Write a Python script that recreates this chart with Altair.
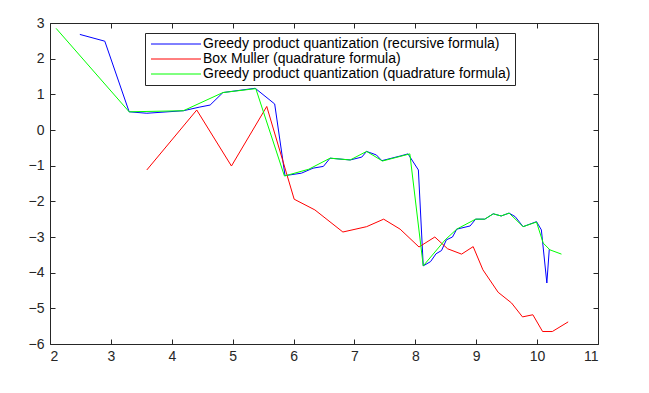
import altair as alt
import pandas as pd

names = [
    "Greedy product quantization (recursive formula)",
    "Box Muller (quadrature formula)",
    "Greedy product quantization (quadrature formula)",
]
colors = ["#0000ff", "#ff0000", "#00ff00"]

blue_x = [2.49, 2.90, 3.30, 3.59, 4.19, 4.45, 4.63, 4.84, 5.37, 5.69, 5.86, 6.13, 6.32, 6.49,
          6.60, 6.93, 7.12, 7.20, 7.36, 7.45, 7.75, 7.88, 8.05, 8.13, 8.25, 8.34, 8.43, 8.51,
          8.61, 8.68, 8.90, 8.99, 9.14, 9.28, 9.41, 9.54, 9.64, 9.77, 9.99, 10.07, 10.16, 10.20]
blue_y = [2.68, 2.49, 0.51, 0.47, 0.54, 0.64, 0.70, 1.05, 1.17, 0.73, -1.28, -1.21, -1.07, -1.02,
          -0.79, -0.84, -0.76, -0.60, -0.70, -0.86, -0.73, -0.67, -1.12, -3.81, -3.69, -3.47, -3.38, -3.08,
          -3.00, -2.78, -2.69, -2.50, -2.50, -2.35, -2.41, -2.33, -2.43, -2.71, -2.57, -2.80, -4.29, -3.34]

red_x = [3.59, 4.41, 4.98, 5.56, 6.01, 6.35, 6.81, 7.20, 7.48, 7.75, 8.06, 8.32, 8.53, 8.76,
         8.95, 9.11, 9.36, 9.58, 9.76, 9.93, 10.09, 10.25, 10.51]
red_y = [-1.12, 0.56, -1.01, 0.66, -1.94, -2.24, -2.86, -2.71, -2.50, -2.78, -3.28, -3.00, -3.33, -3.48,
         -3.27, -3.92, -4.55, -4.85, -5.24, -5.18, -5.65, -5.65, -5.38]

green_x = [2.10, 3.30, 4.19, 4.84, 5.38, 5.85, 6.25, 6.60, 6.93, 7.20, 7.46, 7.91, 8.13, 8.49,
           8.68, 8.99, 9.14, 9.28, 9.41, 9.54, 9.77, 9.99, 10.10, 10.21, 10.40]
green_y = [2.85, 0.51, 0.54, 1.05, 1.16, -1.29, -1.10, -0.79, -0.84, -0.60, -0.87, -0.67, -3.81, -3.08,
           -2.78, -2.50, -2.50, -2.35, -2.41, -2.33, -2.71, -2.58, -3.17, -3.36, -3.48]

x_ticks = [2, 3, 4, 5, 6, 7, 8, 9, 10, 11]
y_ticks = [-6, -5, -4, -3, -2, -1, 0, 1, 2, 3]

rows = []
for name, xs, ys in zip(names, [blue_x, red_x, green_x], [blue_y, red_y, green_y]):
    for i, (xv, yv) in enumerate(zip(xs, ys)):
        rows.append({"series": name, "x": xv, "y": yv, "i": i})
df = pd.DataFrame(rows)

W, H = 548, 321
FONT = "Liberation Sans"
AX = "#262626"
xscale = alt.Scale(domain=[2, 11], nice=False, zero=False)
yscale = alt.Scale(domain=[-6, 3], nice=False, zero=False)

lines = alt.Chart(df).mark_line(strokeWidth=1, clip=True).encode(
    x=alt.X("x:Q", scale=xscale, title=None,
            axis=alt.Axis(values=x_ticks, ticks=False, domain=False, grid=False, labelPadding=5,
                          labelFontSize=14, labelFont=FONT, labelColor=AX)),
    y=alt.Y("y:Q", scale=yscale, title=None,
            axis=alt.Axis(values=y_ticks, ticks=False, domain=False, grid=False, labelPadding=6,
                          labelFontSize=14, labelFont=FONT, labelColor=AX)),
    color=alt.Color("series:N", scale=alt.Scale(domain=names, range=colors),
                    legend=alt.Legend(title=None, orient="none", legendX=95, legendY=10,
                                      symbolType="M-5,0H5", symbolSize=100, symbolStrokeWidth=1,
                                      symbolOffset=20,
                                      labelFontSize=14, labelFont=FONT, labelColor="#000000",
                                      labelLimit=0, strokeColor=AX, fillColor="white",
                                      padding=4, rowPadding=1, labelOffset=20)),
    order="i:Q",
)

ticks_a = alt.Chart(df).mark_point(opacity=0).encode(
    x=alt.X("x:Q", scale=xscale, title=None,
            axis=alt.Axis(orient="top", offset=-H, values=x_ticks, labels=False, domain=False,
                          grid=False, tickSize=5, tickColor=AX)),
    y=alt.Y("y:Q", scale=yscale, title=None,
            axis=alt.Axis(orient="right", offset=-W, values=y_ticks, labels=False, domain=False,
                          grid=False, tickSize=5, tickColor=AX)),
)

ticks_b = alt.Chart(df).mark_point(opacity=0).encode(
    x=alt.X("x:Q", scale=xscale, title=None,
            axis=alt.Axis(orient="bottom", offset=-H, values=x_ticks, labels=False, domain=False,
                          grid=False, tickSize=5, tickColor=AX)),
    y=alt.Y("y:Q", scale=yscale, title=None,
            axis=alt.Axis(orient="left", offset=-W, values=y_ticks, labels=False, domain=False,
                          grid=False, tickSize=5, tickColor=AX)),
)

chart = alt.layer(ticks_a, ticks_b, lines).resolve_axis(
    x="independent", y="independent"
).properties(
    width=W, height=H,
    autosize=alt.AutoSizeParams(type="none"),
    padding={"left": 42, "top": 15, "right": 43, "bottom": 40},
    background="white",
).configure_view(stroke=AX, strokeWidth=1)

chart.save("out.html", embed_options={"renderer": "svg", "actions": False})
